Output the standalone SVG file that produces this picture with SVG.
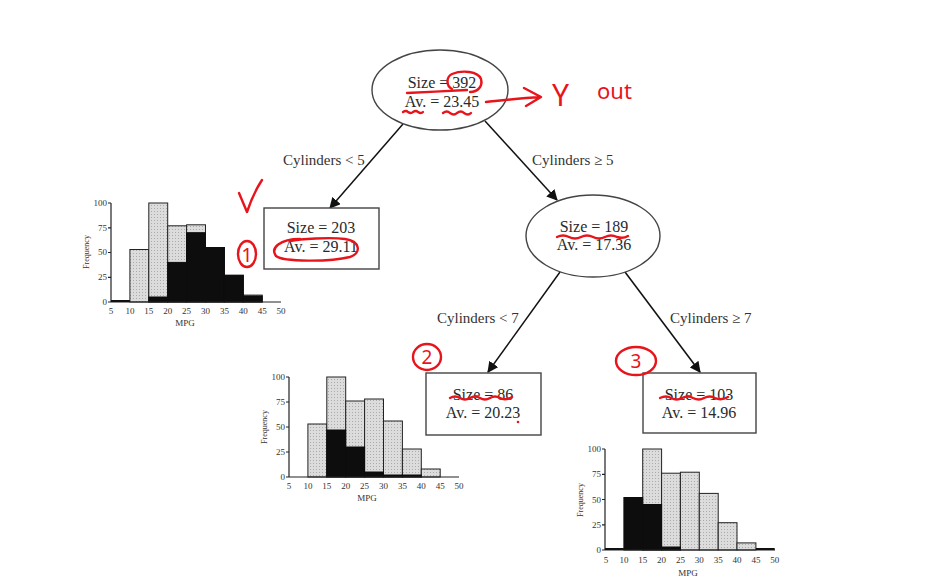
<svg xmlns="http://www.w3.org/2000/svg" width="927" height="588" viewBox="0 0 927 588">
<defs>
<pattern id="stip" width="3" height="3" patternUnits="userSpaceOnUse">
<rect width="3" height="3" fill="#dcdcdc"/>
<rect x="1" y="1" width="1" height="1" fill="#ababab"/>
</pattern>
<marker id="ah" viewBox="0 0 10 10" refX="9" refY="5" markerWidth="11" markerHeight="11" markerUnits="userSpaceOnUse" orient="auto">
<path d="M0,0 L10,5 L0,10 Z" fill="#111"/>
</marker>
<style>
.nt{font-family:"Liberation Serif","Times New Roman",serif;font-size:16px;fill:#2a2a2a;text-anchor:middle}
.lb{font-family:"Liberation Serif","Times New Roman",serif;font-size:15px;fill:#333}
.node{fill:#fff;stroke:#444;stroke-width:1.4}
.edge{stroke:#111;stroke-width:1.5;fill:none;marker-end:url(#ah)}
.g{fill:url(#stip);stroke:#222;stroke-width:1}
.b{fill:#0d0d0d;stroke:#0d0d0d;stroke-width:1}
.ax{stroke:#222;stroke-width:1.2;fill:none}
.tk{font-family:"Liberation Serif","Times New Roman",serif;font-size:9px;fill:#333}
.red{stroke:#e8141c;stroke-width:2.4;fill:none;stroke-linecap:round;stroke-linejoin:round}
.rt{font-family:"Noto Sans","DejaVu Sans",sans-serif;fill:#e8141c}
</style>
</defs>
<rect width="927" height="588" fill="#fff"/>

<g id="connectors">
<line class="edge" x1="403" y1="124" x2="330" y2="208"/>
<line class="edge" x1="485" y1="121" x2="557" y2="200"/>
<line class="edge" x1="560" y1="272" x2="488" y2="372"/>
<line class="edge" x1="625" y1="272" x2="700" y2="372"/>
<text class="lb" x="283" y="165">Cylinders &lt; 5</text>
<text class="lb" x="532" y="165">Cylinders ≥ 5</text>
<text class="lb" x="437" y="323">Cylinders &lt; 7</text>
<text class="lb" x="670" y="323">Cylinders ≥ 7</text>
</g>

<g id="root">
<ellipse class="node" cx="440" cy="90" rx="68" ry="40"/>
<text class="nt" x="442" y="88">Size = 392</text>
<text class="nt" x="442" y="107">Av. = 23.45</text>
</g>

<g id="node203">
<rect class="node" x="264" y="208" width="115" height="61"/>
<text class="nt" x="321" y="233">Size = 203</text>
<text class="nt" x="321" y="252">Av. = 29.11</text>
</g>

<g id="node189">
<ellipse class="node" cx="593" cy="236" rx="67" ry="41"/>
<text class="nt" x="594" y="232">Size = 189</text>
<text class="nt" x="594" y="250">Av. = 17.36</text>
</g>

<g id="node86">
<rect class="node" x="426" y="373" width="115" height="62"/>
<text class="nt" x="483" y="400">Size = 86</text>
<text class="nt" x="483" y="418">Av. = 20.23</text>
</g>

<g id="node103">
<rect class="node" x="643" y="373" width="113" height="60"/>
<text class="nt" x="699" y="400">Size = 103</text>
<text class="nt" x="699" y="418">Av. = 14.96</text>
</g>

<!-- Left histogram -->
<g id="hist-left">
<rect class="g" x="129.9" y="249.5" width="18.9" height="52.5"/>
<rect class="g" x="148.8" y="203" width="18.9" height="99"/>
<rect class="g" x="167.7" y="225.8" width="18.9" height="76.2"/>
<rect class="g" x="186.6" y="224.8" width="18.9" height="77.2"/>
<rect class="g" x="205.5" y="247.5" width="18.9" height="54.5"/>
<rect class="g" x="224.4" y="275.3" width="18.9" height="26.7"/>
<rect class="g" x="243.3" y="295.1" width="18.9" height="6.9"/>
<rect class="b" x="148.8" y="297" width="18.9" height="5"/>
<rect class="b" x="167.7" y="262.4" width="18.9" height="39.6"/>
<rect class="b" x="186.6" y="232.7" width="18.9" height="69.3"/>
<rect class="b" x="205.5" y="247.5" width="18.9" height="54.5"/>
<rect class="b" x="224.4" y="275.3" width="18.9" height="26.7"/>
<rect class="b" x="243.3" y="296" width="18.9" height="6"/>
<path class="ax" d="M111,203 V302 H281 M108,203 H111 M108,227.8 H111 M108,252.5 H111 M108,277.3 H111 M108,302 H111"/>
<line x1="111" y1="301" x2="129.9" y2="301" stroke="#111" stroke-width="2"/>
<g class="tk" text-anchor="end">
<text x="107" y="206">100</text><text x="107" y="231">75</text><text x="107" y="255">50</text><text x="107" y="280">25</text><text x="107" y="305">0</text>
</g>
<g class="tk" text-anchor="middle">
<text x="111" y="314">5</text><text x="129.9" y="314">10</text><text x="148.8" y="314">15</text><text x="167.7" y="314">20</text><text x="186.6" y="314">25</text><text x="205.5" y="314">30</text><text x="224.4" y="314">35</text><text x="243.3" y="314">40</text><text x="262.2" y="314">45</text><text x="281" y="314">50</text>
<text x="185" y="326">MPG</text>
<text transform="translate(89,252) rotate(-90)" font-size="8">Frequency</text>
</g>
</g>

<!-- Middle histogram -->
<g id="hist-mid">
<rect class="g" x="307.9" y="424" width="18.9" height="53"/>
<rect class="g" x="326.8" y="377" width="18.9" height="100"/>
<rect class="g" x="345.7" y="401" width="18.9" height="76"/>
<rect class="g" x="364.6" y="399" width="18.9" height="78"/>
<rect class="g" x="383.5" y="421" width="18.9" height="56"/>
<rect class="g" x="402.4" y="449" width="18.9" height="28"/>
<rect class="g" x="421.3" y="469" width="18.9" height="8"/>
<rect class="b" x="326.8" y="430" width="18.9" height="47"/>
<rect class="b" x="345.7" y="447" width="18.9" height="30"/>
<rect class="b" x="364.6" y="472" width="18.9" height="5"/>
<rect class="b" x="383.5" y="475" width="18.9" height="2"/>
<rect class="b" x="402.4" y="475" width="18.9" height="2"/>
<path class="ax" d="M289,377 V477 H459 M286,377 H289 M286,402 H289 M286,427 H289 M286,452 H289 M286,477 H289"/>
<g class="tk" text-anchor="end">
<text x="285" y="380">100</text><text x="285" y="405">75</text><text x="285" y="430">50</text><text x="285" y="455">25</text><text x="285" y="480">0</text>
</g>
<g class="tk" text-anchor="middle">
<text x="289" y="489">5</text><text x="307.9" y="489">10</text><text x="326.8" y="489">15</text><text x="345.7" y="489">20</text><text x="364.6" y="489">25</text><text x="383.5" y="489">30</text><text x="402.4" y="489">35</text><text x="421.3" y="489">40</text><text x="440.2" y="489">45</text><text x="459" y="489">50</text>
<text x="367" y="501">MPG</text>
<text transform="translate(267,427) rotate(-90)" font-size="8">Frequency</text>
</g>
</g>

<!-- Bottom-right histogram -->
<g id="hist-right">
<rect class="g" x="642.7" y="449" width="18.9" height="101"/>
<rect class="g" x="661.6" y="473.2" width="18.8" height="76.8"/>
<rect class="g" x="680.4" y="472.2" width="18.9" height="77.8"/>
<rect class="g" x="699.3" y="493.4" width="18.9" height="56.6"/>
<rect class="g" x="718.2" y="522.7" width="18.8" height="27.3"/>
<rect class="g" x="737" y="542.9" width="18.9" height="7.1"/>
<rect class="b" x="623.9" y="497.5" width="18.8" height="52.5"/>
<rect class="b" x="642.7" y="504.5" width="18.9" height="45.5"/>
<rect class="b" x="661.6" y="547" width="18.8" height="3"/>
<path class="ax" d="M605,449 V550 H775 M602,449 H605 M602,474.3 H605 M602,499.5 H605 M602,524.8 H605 M602,550 H605"/>
<line x1="605" y1="549" x2="623.9" y2="549" stroke="#111" stroke-width="2"/>
<line x1="755.9" y1="549" x2="774.7" y2="549" stroke="#111" stroke-width="2"/>
<g class="tk" text-anchor="end">
<text x="601" y="452">100</text><text x="601" y="477">75</text><text x="601" y="503">50</text><text x="601" y="528">25</text><text x="601" y="553">0</text>
</g>
<g class="tk" text-anchor="middle">
<text x="606" y="563">5</text><text x="623.9" y="563">10</text><text x="642.7" y="563">15</text><text x="661.6" y="563">20</text><text x="680.4" y="563">25</text><text x="699.3" y="563">30</text><text x="718.2" y="563">35</text><text x="737" y="563">40</text><text x="755.9" y="563">45</text><text x="774.7" y="563">50</text>
<text x="688" y="576">MPG</text>
<text transform="translate(583,500) rotate(-90)" font-size="8">Frequency</text>
</g>
</g>

<!-- Red handwritten annotations -->
<g id="annotations">
<path class="red" d="M470,92 C478,92 483,86 481,79 C478,71 462,70 452,74 C446,77 446,86 452,89"/>
<path class="red" d="M407,93 C425,92 450,91 467,90"/>
<path class="red" d="M403,112 q3,-2 5,0 q3,2 5,0 q3,-2 5,0 q3,2 5,0"/>
<path class="red" d="M443,113 q4,-3 7,0 q4,3 7,0 q4,-3 7,0 q4,3 7,0"/>
<path class="red" d="M486,102 C505,100 522,98 540,97 M524,88 L541,97 L526,106"/>
<text class="rt" x="552" y="106" font-size="30">Y<tspan x="597" y="99" font-size="22">out</tspan></text>
<path class="red" d="M239,193 L247,212 C251,200 256,189 262,180"/>
<ellipse class="red" cx="247" cy="254" rx="9" ry="13"/>
<text class="rt" x="247" y="262" font-size="20" text-anchor="middle">1</text>
<path class="red" d="M300,239 C280,239 270,248 276,256 C283,262 330,262 350,257 C362,253 360,241 345,239 C330,237 300,239 290,241"/>
<path class="red" d="M557,237 q6,-3 12,0 q6,3 12,0 q6,-3 12,0 q6,3 12,0 q6,-3 12,0 q6,2 11,-1"/>
<ellipse class="red" cx="427" cy="357" rx="14" ry="13"/>
<text class="rt" x="427" y="364" font-size="19" text-anchor="middle">2</text>
<path class="red" d="M450,398 q5,-3 10,0 q5,3 10,0 q5,-3 10,0 q5,3 10,0 q5,-3 10,0 q5,3 12,-1"/>
<circle cx="518" cy="422" r="1.3" fill="#e8141c"/>
<ellipse class="red" cx="636" cy="361" rx="20" ry="14"/>
<text class="rt" x="636" y="368" font-size="19" text-anchor="middle">3</text>
<path class="red" d="M660,398 q6,-3 11,0 q6,3 11,0 q6,-3 11,0 q6,3 11,0 q6,-3 11,0 q6,3 13,-1"/>
</g>
</svg>
